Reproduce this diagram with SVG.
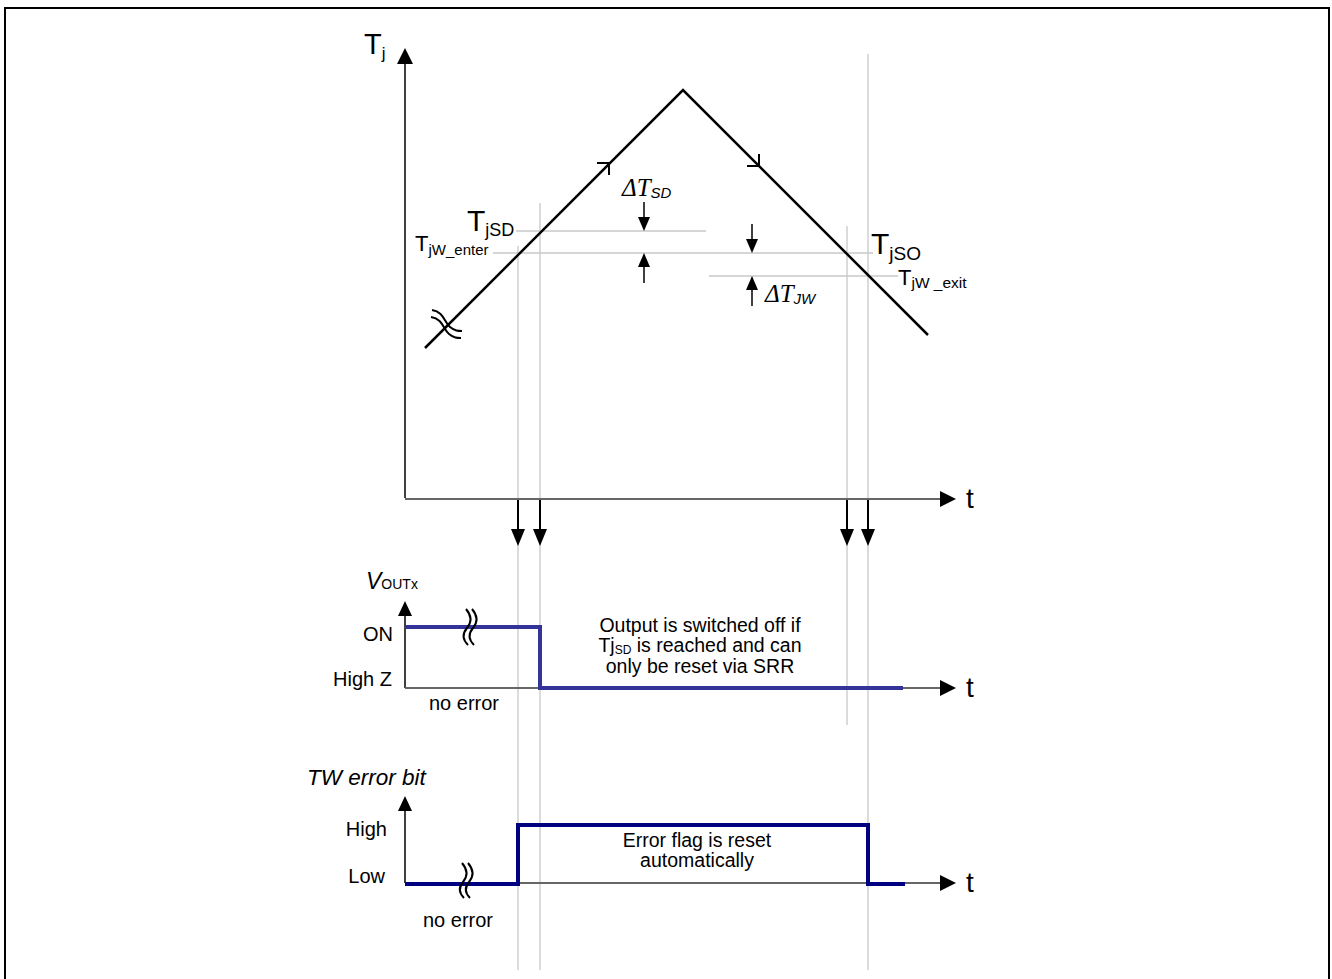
<svg xmlns="http://www.w3.org/2000/svg" width="1332" height="979" viewBox="0 0 1332 979">
<style>
text{font-family:"Liberation Sans",Arial,sans-serif;fill:#000}
.grid{stroke:#c8c8c8;stroke-width:1.3;fill:none}
.ax{stroke:#000;stroke-width:1.5;fill:none}
.hx{stroke:#666;stroke-width:2;fill:none}
.ar{fill:#000;stroke:none}
.curve{stroke:#000;stroke-width:2.5;fill:none}
.brk{stroke:#000;stroke-width:2;fill:none}
.lbl{font-size:20px}
.txt{font-size:19.5px;text-anchor:middle}
.dt{font-family:"Liberation Serif","Times New Roman",serif;font-style:italic}
</style>
<rect x="5" y="8" width="1324" height="1000" fill="#fff" stroke="#000" stroke-width="2"/>

<g id="grid-lines">
<line class="grid" x1="518" y1="246" x2="518" y2="970"/>
<line class="grid" x1="540" y1="203" x2="540" y2="970"/>
<line class="grid" x1="847" y1="226" x2="847" y2="725"/>
<line class="grid" x1="868" y1="54" x2="868" y2="970"/>
<line class="grid" x1="516" y1="231" x2="706" y2="231"/>
<line class="grid" x1="493" y1="253" x2="873" y2="253"/>
<line class="grid" x1="709" y1="276" x2="898" y2="276"/>
</g>

<g id="temp-chart">
<line class="ax" x1="405" y1="498" x2="405" y2="62"/>
<path class="ar" d="M405,48 L413,64 L397,64 Z"/>
<line class="hx" x1="405" y1="499" x2="942" y2="499"/>
<path class="ar" d="M956,499 L940,491 L940,507 Z"/>
<text x="966" y="508" style="font-size:28px">t</text>
<text x="364" y="54" style="font-size:29px">T<tspan dy="5" style="font-size:17px">j</tspan></text>
<polyline class="curve" points="425,348 683,90 928,335"/>
<path class="brk" d="M597,163 L609,163 L609,175"/>
<path class="brk" d="M747,166 L759,166 L759,154"/>
<path class="brk" d="M432,310 C444,312 444,322 450,327 C455,331 458,331 462,331"/>
<path class="brk" d="M431,317 C443,319 443,329 449,334 C454,338 457,338 461,338"/>
</g>

<g id="label-TjSD"><text x="467" y="231" style="font-size:30px">T<tspan dy="5" style="font-size:18px">jSD</tspan></text></g>
<g id="label-TjW-enter"><text x="415" y="251" style="font-size:22px">T<tspan dy="4" style="font-size:15px">jW_enter</tspan></text></g>
<g id="label-TjSO"><text x="871" y="254" style="font-size:30px">T<tspan dy="6" style="font-size:19px">jSO</tspan></text></g>
<g id="label-TjW-exit"><text x="898" y="285" style="font-size:22px">T<tspan dy="3" style="font-size:15.5px">jW _exit</tspan></text></g>
<g id="label-dTSD"><text x="622" y="196" class="dt" style="font-size:25px">ΔT<tspan dy="2" style="font-family:'Liberation Sans',Arial,sans-serif;font-style:italic;font-size:15px">SD</tspan></text></g>
<g id="label-dTJW"><text x="765" y="302" class="dt" style="font-size:25px">ΔT<tspan dy="2" style="font-family:'Liberation Sans',Arial,sans-serif;font-style:italic;font-size:15px">JW</tspan></text></g>

<g id="connectors">
<line class="ax" x1="644" y1="202" x2="644" y2="220"/>
<path class="ar" d="M644,231 L638,217 L650,217 Z"/>
<line class="ax" x1="644" y1="283" x2="644" y2="264"/>
<path class="ar" d="M644,253 L638,267 L650,267 Z"/>
<line class="ax" x1="752" y1="224" x2="752" y2="242"/>
<path class="ar" d="M752,253 L746,239 L758,239 Z"/>
<line class="ax" x1="752" y1="306" x2="752" y2="287"/>
<path class="ar" d="M752,276 L746,290 L758,290 Z"/>
<g stroke="#000" stroke-width="2">
<line x1="518" y1="500" x2="518" y2="532"/>
<line x1="540" y1="500" x2="540" y2="532"/>
<line x1="847" y1="500" x2="847" y2="532"/>
<line x1="868" y1="500" x2="868" y2="532"/>
</g>
<path class="ar" d="M518,546 L511,529 L525,529 Z"/>
<path class="ar" d="M540,546 L533,529 L547,529 Z"/>
<path class="ar" d="M847,546 L840,529 L854,529 Z"/>
<path class="ar" d="M868,546 L861,529 L875,529 Z"/>
</g>

<g id="vout-chart">
<text x="366" y="589" style="font-size:23px;font-style:italic">V<tspan style="font-style:normal;font-size:14px">OUTx</tspan></text>
<line class="ax" x1="405" y1="688" x2="405" y2="614"/>
<path class="ar" d="M405,601 L412,616 L398,616 Z"/>
<line class="hx" x1="405" y1="688" x2="942" y2="688"/>
<path class="ar" d="M956,688 L940,680 L940,696 Z"/>
<text x="966" y="697" style="font-size:28px">t</text>
<text x="393" y="641" class="lbl" text-anchor="end">ON</text>
<text x="392" y="686" class="lbl" text-anchor="end">High Z</text>
<text x="464" y="710" class="lbl" text-anchor="middle">no error</text>
<polyline points="405,627 540,627 540,688 903,688" fill="none" stroke="#33339a" stroke-width="4"/>
<path class="brk" d="M466,609 C472,616 472,622 467,628 C462,634 463,640 468,645"/>
<path class="brk" d="M472,609 C478,616 478,622 473,628 C468,634 469,640 474,645"/>
<text class="txt" x="700" y="632">Output is switched off if</text>
<text class="txt" x="700" y="652">Tj<tspan dy="2" style="font-size:12px">SD</tspan><tspan dy="-2"> is reached and can</tspan></text>
<text class="txt" x="700" y="673">only be reset via SRR</text>
</g>

<g id="tw-chart">
<text x="307" y="785" style="font-size:22.5px;font-style:italic">TW error bit</text>
<line class="ax" x1="405" y1="883" x2="405" y2="809"/>
<path class="ar" d="M405,796 L412,811 L398,811 Z"/>
<line class="hx" x1="405" y1="883" x2="942" y2="883"/>
<path class="ar" d="M956,883 L940,875 L940,891 Z"/>
<text x="966" y="892" style="font-size:28px">t</text>
<text x="387" y="836" class="lbl" text-anchor="end">High</text>
<text x="385" y="883" class="lbl" text-anchor="end">Low</text>
<text x="458" y="927" class="lbl" text-anchor="middle">no error</text>
<polyline points="405,884 518,884 518,825 868,825 868,884 905,884" fill="none" stroke="#000080" stroke-width="4"/>
<path class="brk" d="M462,863 C468,870 468,876 463,882 C458,888 459,893 464,898"/>
<path class="brk" d="M468,863 C474,870 474,876 469,882 C464,888 465,893 470,898"/>
<text class="txt" x="697" y="847">Error flag is reset</text>
<text class="txt" x="697" y="867">automatically</text>
</g>
</svg>
